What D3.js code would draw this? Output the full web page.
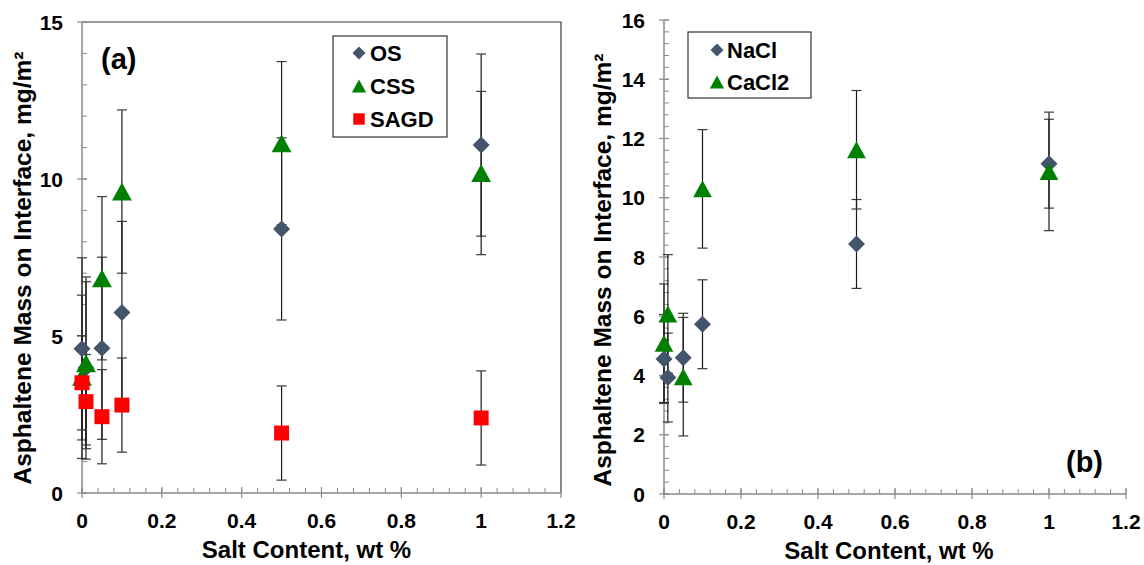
<!DOCTYPE html>
<html>
<head>
<meta charset="utf-8">
<script src="https://cdn.jsdelivr.net/npm/d3@7/dist/d3.min.js"></script>
<style>
  html, body { margin: 0; padding: 0; background: #fff; }
  svg { display: block; font-family: "Liberation Sans", Arial, sans-serif; }
</style>
</head>
<body>
<svg id="chart" width="1144" height="565"></svg>
<script>
// Salt concentrations tested (wt %)
const saltContent = [0, 0.01, 0.05, 0.1, 0.5, 1];

// Panel (a): asphaltene mass by bitumen source (mg/m²)
const osMass   = [4.59, 3.98, 4.61, 5.75, 8.41, 11.08];
const cssMass  = [3.70, 4.13, 6.84, 9.60, 11.14, 10.19];
const sagdMass = [3.51, 2.91, 2.43, 2.80, 1.91, 2.39];
const osErr    = [2.9, 2.9, 2.9, 2.9, 2.9, 2.9];
const cssErr   = [2.6, 2.6, 2.6, 2.6, 2.6, 2.6];
const sagdErr  = [1.5, 1.5, 1.5, 1.5, 1.5, 1.5];

// Panel (b): asphaltene mass by salt type (mg/m²)
const naclMass  = [4.56, 3.93, 4.60, 5.73, 8.44, 11.15];
const cacl2Mass = [5.09, 6.08, 3.96, 10.30, 11.62, 10.89];
const naclErr   = [1.5, 1.5, 1.5, 1.5, 1.5, 1.5];
const cacl2Err  = [2.0, 2.0, 2.0, 2.0, 2.0, 2.0];

// Axis ticks
const xTicks = [0, 0.2, 0.4, 0.6, 0.8, 1, 1.2];
const xTickLabels = ["0", "0.2", "0.4", "0.6", "0.8", "1", "1.2"];
const leftYTicks = [0, 5, 10, 15];
const rightYTicks = [0, 2, 4, 6, 8, 10, 12, 14, 16];

const xTitle = "Salt Content, wt %";
const yTitle = "Asphaltene Mass on Interface, mg/m²";

const svg = d3.select("#chart");

const COLORS = { diamond: "#44546A", triangle: "#008000", square: "#FF0000" };

function markerPath(shape, s) {
  if (shape === "diamond") {
    const r = s / 2;
    return `M0,${-r}L${r},0L0,${r}L${-r},0Z`;
  }
  if (shape === "triangle") {
    const w = s * 1.1, h = s;
    return `M0,${-h / 2}L${w / 2},${h / 2}L${-w / 2},${h / 2}Z`;
  }
  const r = s * 0.44;
  return `M${-r},${-r}H${r}V${r}H${-r}Z`;
}

function drawPanel(cfg) {
  const g = svg.append("g");
  const x = d3.scaleLinear().domain([0, 1.2]).range([cfg.left, cfg.right]);
  const y = d3.scaleLinear().domain([0, cfg.yMax]).range([cfg.bottom, cfg.top]);

  // frame on top/right
  if (cfg.frame) {
    g.append("path")
      .attr("d", `M${cfg.left},${cfg.top}H${cfg.right}V${cfg.bottom}`)
      .attr("fill", "none").attr("stroke", "#3a3a3a").attr("stroke-width", 1.2);
  }

  // minor ticks (inside)
  const yMinor = d3.range(0, cfg.yMax + 1e-9, cfg.yMinorStep);
  g.append("g").selectAll("line").data(yMinor).join("line")
    .attr("x1", cfg.left).attr("x2", cfg.left + 5)
    .attr("y1", d => y(d)).attr("y2", d => y(d))
    .attr("stroke", "#8a8a8a").attr("stroke-width", 1);
  const xMinor = d3.range(0, 1.2 + 1e-9, 0.04);
  g.append("g").selectAll("line").data(xMinor).join("line")
    .attr("x1", d => x(d)).attr("x2", d => x(d))
    .attr("y1", cfg.bottom).attr("y2", cfg.bottom - 5)
    .attr("stroke", "#8a8a8a").attr("stroke-width", 1);

  // major ticks (cross)
  g.append("g").selectAll("line").data(cfg.yTicks).join("line")
    .attr("x1", cfg.left - 5).attr("x2", cfg.left + 5)
    .attr("y1", d => y(d)).attr("y2", d => y(d))
    .attr("stroke", "#8a8a8a").attr("stroke-width", 1.2);
  g.append("g").selectAll("line").data(xTicks).join("line")
    .attr("x1", d => x(d)).attr("x2", d => x(d))
    .attr("y1", cfg.bottom + 5).attr("y2", cfg.bottom - 6)
    .attr("stroke", "#8a8a8a").attr("stroke-width", 1.2);

  // axis lines
  g.append("line").attr("x1", cfg.left).attr("x2", cfg.left)
    .attr("y1", cfg.top).attr("y2", cfg.bottom)
    .attr("stroke", "#8a8a8a").attr("stroke-width", 1.5);
  g.append("line").attr("x1", cfg.left).attr("x2", cfg.right)
    .attr("y1", cfg.bottom).attr("y2", cfg.bottom)
    .attr("stroke", "#8a8a8a").attr("stroke-width", 1.5);

  // tick labels
  g.append("g").selectAll("text").data(cfg.yTicks).join("text")
    .attr("x", cfg.left - 19).attr("y", d => y(d)).attr("dy", "0.36em")
    .attr("text-anchor", "end").attr("font-size", 21).attr("font-weight", "bold")
    .text(d => d);
  g.append("g").selectAll("text").data(xTicks).join("text")
    .attr("x", d => x(d)).attr("y", cfg.bottom + 35)
    .attr("text-anchor", "middle").attr("font-size", 21).attr("font-weight", "bold")
    .text((d, i) => xTickLabels[i]);

  // axis titles
  g.append("text")
    .attr("x", (cfg.left + cfg.right) / 2 + cfg.xTitleShift).attr("y", cfg.xTitleY)
    .attr("text-anchor", "middle").attr("font-size", 24).attr("font-weight", "bold")
    .text(xTitle);
  g.append("text")
    .attr("transform", `translate(${cfg.yTitleX},${cfg.yTitleY}) rotate(-90)`)
    .attr("text-anchor", "middle").attr("font-size", 24.5).attr("font-weight", "bold")
    .text(yTitle);

  // error bars, drawn beneath the markers
  const eb = g.append("g");
  cfg.series.forEach(s => {
    const pts = saltContent.map((c, i) => ({ c, v: s.values[i], e: s.err[i] }));
    eb.append("g").selectAll("line").data(pts).join("line")
      .attr("x1", d => x(d.c)).attr("x2", d => x(d.c))
      .attr("y1", d => y(d.v - d.e)).attr("y2", d => y(d.v + d.e))
      .attr("stroke", "#1a1a1a").attr("stroke-width", 1.2);
    [-1, 1].forEach(sign => {
      eb.append("g").selectAll("line").data(pts).join("line")
        .attr("x1", d => x(d.c) - 5).attr("x2", d => x(d.c) + 5)
        .attr("y1", d => y(d.v + sign * d.e)).attr("y2", d => y(d.v + sign * d.e))
        .attr("stroke", "#3a3a3a").attr("stroke-width", 1.2);
    });
  });

  // markers
  cfg.series.forEach(s => {
    g.append("g").selectAll("path").data(saltContent).join("path")
      .attr("transform", (c, i) => `translate(${x(c)},${y(s.values[i])})`)
      .attr("d", markerPath(s.shape, s.size))
      .attr("fill", COLORS[s.shape]);
  });

  // legend
  const lg = g.append("g");
  lg.append("rect")
    .attr("x", cfg.legend.x).attr("y", cfg.legend.y)
    .attr("width", cfg.legend.w).attr("height", cfg.legend.h)
    .attr("fill", "#fff").attr("stroke", "#333").attr("stroke-width", 1.2);
  cfg.series.forEach((s, i) => {
    const cy = cfg.legend.y + cfg.legend.first + i * cfg.legend.step;
    lg.append("path")
      .attr("transform", `translate(${cfg.legend.x + cfg.legend.mx},${cy})`)
      .attr("d", markerPath(s.shape, s.legendSize))
      .attr("fill", COLORS[s.shape]);
    lg.append("text")
      .attr("x", cfg.legend.x + cfg.legend.tx).attr("y", cy).attr("dy", "0.36em")
      .attr("font-size", 22).attr("font-weight", "bold")
      .text(s.name);
  });

  // panel label
  g.append("text")
    .attr("x", cfg.tag.x).attr("y", cfg.tag.y)
    .attr("font-size", 29).attr("font-weight", "bold")
    .text(cfg.tag.text);
}

drawPanel({
  left: 82, right: 561, top: 22, bottom: 493, yMax: 15, yMinorStep: 1,
  yTicks: leftYTicks, frame: true, xTitleShift: -15, xTitleY: 558,
  yTitleX: 31, yTitleY: 268,
  series: [
    { name: "OS", values: osMass, err: osErr, shape: "diamond", size: 17, legendSize: 13 },
    { name: "CSS", values: cssMass, err: cssErr, shape: "triangle", size: 18, legendSize: 13 },
    { name: "SAGD", values: sagdMass, err: sagdErr, shape: "square", size: 17, legendSize: 13 }
  ],
  legend: { x: 333, y: 36, w: 114, h: 101, first: 17, step: 33, mx: 26, tx: 37 },
  tag: { x: 101, y: 69, text: "(a)" }
});

drawPanel({
  left: 664, right: 1126, top: 20, bottom: 494, yMax: 16, yMinorStep: 0.4,
  yTicks: rightYTicks, frame: false, xTitleShift: -6, xTitleY: 559,
  yTitleX: 611, yTitleY: 270,
  series: [
    { name: "NaCl", values: naclMass, err: naclErr, shape: "diamond", size: 17, legendSize: 13 },
    { name: "CaCl2", values: cacl2Mass, err: cacl2Err, shape: "triangle", size: 17, legendSize: 13 }
  ],
  legend: { x: 688, y: 32, w: 123, h: 66, first: 18, step: 32, mx: 29, tx: 39 },
  tag: { x: 1066, y: 472, text: "(b)" }
});
</script>
</body>
</html>
